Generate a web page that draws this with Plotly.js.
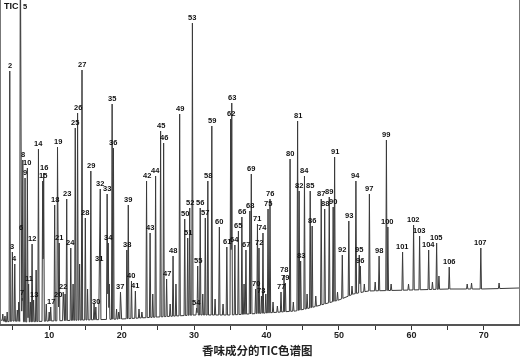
<!DOCTYPE html>
<html>
<head>
<meta charset="utf-8">
<script src="https://cdn.plot.ly/plotly-3.0.1.min.js"></script>
<style>html,body{margin:0;padding:0;background:#fff;}#chart{width:520px;height:359px;}
#chart .main-svg{will-change:transform;}</style>
</head>
<body>
<div id="chart"></div>
<script>
// ---- data (retention time in min, apex intensity in arbitrary units) ----
const peakLabels = [2,3,4,5,6,7,8,9,10,11,12,13,14,15,16,17,18,19,20,21,22,23,24,25,26,27,28,29,30,
  31,32,33,34,35,36,37,38,39,40,41,42,43,44,45,46,47,48,49,50,51,52,53,54,55,56,57,58,59,60,
  61,62,63,64,65,66,67,68,69,70,71,72,73,74,75,76,77,78,79,80,81,82,83,84,85,86,87,88,89,90,
  91,92,93,94,95,96,97,98,99,100,101,102,103,104,105,106,107];
const peakTimes = [4.56,4.92,5.25,6.02,6.12,6.26,6.36,6.67,6.99,7.16,7.64,7.85,8.52,9.10,9.24,10.21,10.76,11.15,11.26,11.38,11.94,12.42,12.98,13.60,13.92,14.53,14.99,15.75,16.44,
  16.93,17.05,18.00,18.15,18.69,18.87,19.84,20.72,20.92,21.36,21.90,23.44,23.93,24.69,25.38,25.80,26.21,27.10,28.01,28.71,29.12,29.40,29.77,30.35,30.50,30.85,31.55,31.90,32.45,33.49,
  34.52,35.05,35.20,35.63,36.12,36.60,37.16,37.70,37.90,38.50,38.75,38.96,39.30,39.51,40.21,40.48,42.00,42.42,42.60,43.25,44.29,44.50,44.71,45.24,46.03,46.30,47.55,48.03,48.66,49.20,
  49.40,50.46,51.36,52.34,52.80,52.95,54.20,55.54,56.55,56.75,58.78,60.30,61.13,62.38,63.48,65.22,69.58];
const peakHeights = [253,72,60,400,91,26,164,146,156,40,80,24,175,143,151,17,119,177,24,81,32,125,76,196,211,254,106,153,17,
  60,135,130,81,220,176,32,74,119,43,33,143,91,148,193,181,45,68,210,105,86,116,301,16,58,116,106,143,198,97,
  77,205,221,79,93,107,74,113,150,35,100,76,28,91,115,125,32,49,41,165,203,133,63,148,133,98,125,115,127,117,
  167,69,103,143,69,58,130,68,184,97,72,99,88,74,81,57,76];

// small unlabelled peaks
const minorTimes = [3.6,3.9,4.2,5.6,5.8,7.4,8.2,9.6,10.0,12.2,13.3,14.2,15.3,16.2,18.3,19.3,19.6,22.4,22.8,24.3,26.7,27.5,31.2,32.9,34.0,36.9,39.9,40.9,41.5,43.7,45.6,46.8,49.8,51.8,53.5,55.0,57.2,59.6,62.9,63.8,67.7,68.3,72.1];
const minorHeights = [10,8,12,14,22,22,54,20,12,30,40,60,35,20,40,15,12,15,12,30,20,40,30,25,20,40,30,22,18,22,30,28,32,38,40,42,40,40,42,48,40,41,41];

// baseline level
const baseTimes  = [3.35,4.0,5.0,7.0,10.0,15.0,20.0,25.0,30.0,35.0,40.0,44.0,46.0,48.0,50.0,52.0,54.0,60.0,65.0,70.0,74.85];
const baseLevels = [4,2,3,2,3,4,5,7,9,9,11,13,16,20,24,30,33,34,35,35,36];

const xTickVals = [5,10,15,20,25,30,35,40,45,50,55,60,65,70];
const xTickText = ['','10','','20','','30','','40','','50','','60','','70'];

const chartTitle = '香味成分的TIC色谱图';
const traceName = 'TIC';

// ---- build the signal from the peaks ----
function baseAt(x){
  for(let i=0;i<baseTimes.length-1;i++){
    if(x>=baseTimes[i] && x<=baseTimes[i+1]){
      const f=(x-baseTimes[i])/(baseTimes[i+1]-baseTimes[i]);
      return baseLevels[i]+f*(baseLevels[i+1]-baseLevels[i]);
    }
  }
  return x<baseTimes[0]?baseLevels[0]:baseLevels[baseLevels.length-1];
}
const hw = 0.09;
const allT = peakTimes.concat(minorTimes);
const allH = peakHeights.concat(minorHeights);
let xs = baseTimes.slice();
allT.forEach(t=>{xs.push(t-hw,t,t+hw);});
xs = Array.from(new Set(xs.map(v=>+v.toFixed(4)))).sort((a,b)=>a-b);
const ys = xs.map(x=>{
  const b=baseAt(x);
  let y=b;
  for(let i=0;i<allT.length;i++){
    const d=Math.abs(x-allT[i]);
    if(d<hw){
      const v=allH[i]-(allH[i]-b)*d/hw;
      if(v>y) y=v;
    }
  }
  return y;
});

const yTop = 324;
const labFont = {family:'Liberation Sans Narrow, Liberation Sans, Arial',size:7.5,color:'#111',weight:'bold'};
const annotations = [];
peakLabels.forEach((lab,i)=>{
  const h = peakHeights[i];
  if(h>yTop){
    annotations.push({x:peakTimes[i],y:yTop,xref:'x',yref:'y',text:String(lab),showarrow:false,
      xanchor:'left',yanchor:'top',xshift:1,yshift:0,font:labFont});
  } else {
    annotations.push({x:peakTimes[i],y:h,xref:'x',yref:'y',text:String(lab),showarrow:false,
      xanchor:'center',yanchor:'bottom',yshift:-1,font:labFont});
  }
});
annotations.push({x:0.02,y:0.981,xref:'paper',yref:'paper',text:traceName,showarrow:false,
  xanchor:'center',yanchor:'middle',font:{family:'Liberation Sans Narrow, Liberation Sans, Arial',size:9,color:'#111',weight:'bold'}});
annotations.push({x:0.496,y:-0.08,xref:'paper',yref:'paper',text:chartTitle,showarrow:false,
  xanchor:'center',yanchor:'middle',font:{family:'Noto Sans CJK SC',size:11.5,color:'#222',weight:'bold'}});

const data = [{x:xs,y:ys,type:'scatter',mode:'lines',line:{color:'#3a3a3a',width:1},hoverinfo:'skip',name:traceName}];
const layout = {
  width:520,height:359,
  margin:{l:1,r:1,t:0,b:35,pad:0},
  paper_bgcolor:'#fff',plot_bgcolor:'#fff',
  showlegend:false,
  xaxis:{range:[3.35,74.85],tickvals:xTickVals,ticktext:xTickText,ticks:'outside',ticklen:4,tickwidth:1,tickcolor:'#333',
    ticklabelstandoff:-2,
    showline:true,linecolor:'#555',linewidth:1.5,showgrid:false,zeroline:false,
    tickfont:{family:'Liberation Sans Narrow, Liberation Sans, Arial',size:9,color:'#222',weight:'bold'}},
  yaxis:{range:[0,yTop],showticklabels:false,ticks:'',showgrid:false,zeroline:false,
    showline:true,mirror:true,linecolor:'#777',linewidth:2},
  annotations:annotations
};
Plotly.newPlot('chart',data,layout,{staticPlot:true,displayModeBar:false});
</script>
</body>
</html>
